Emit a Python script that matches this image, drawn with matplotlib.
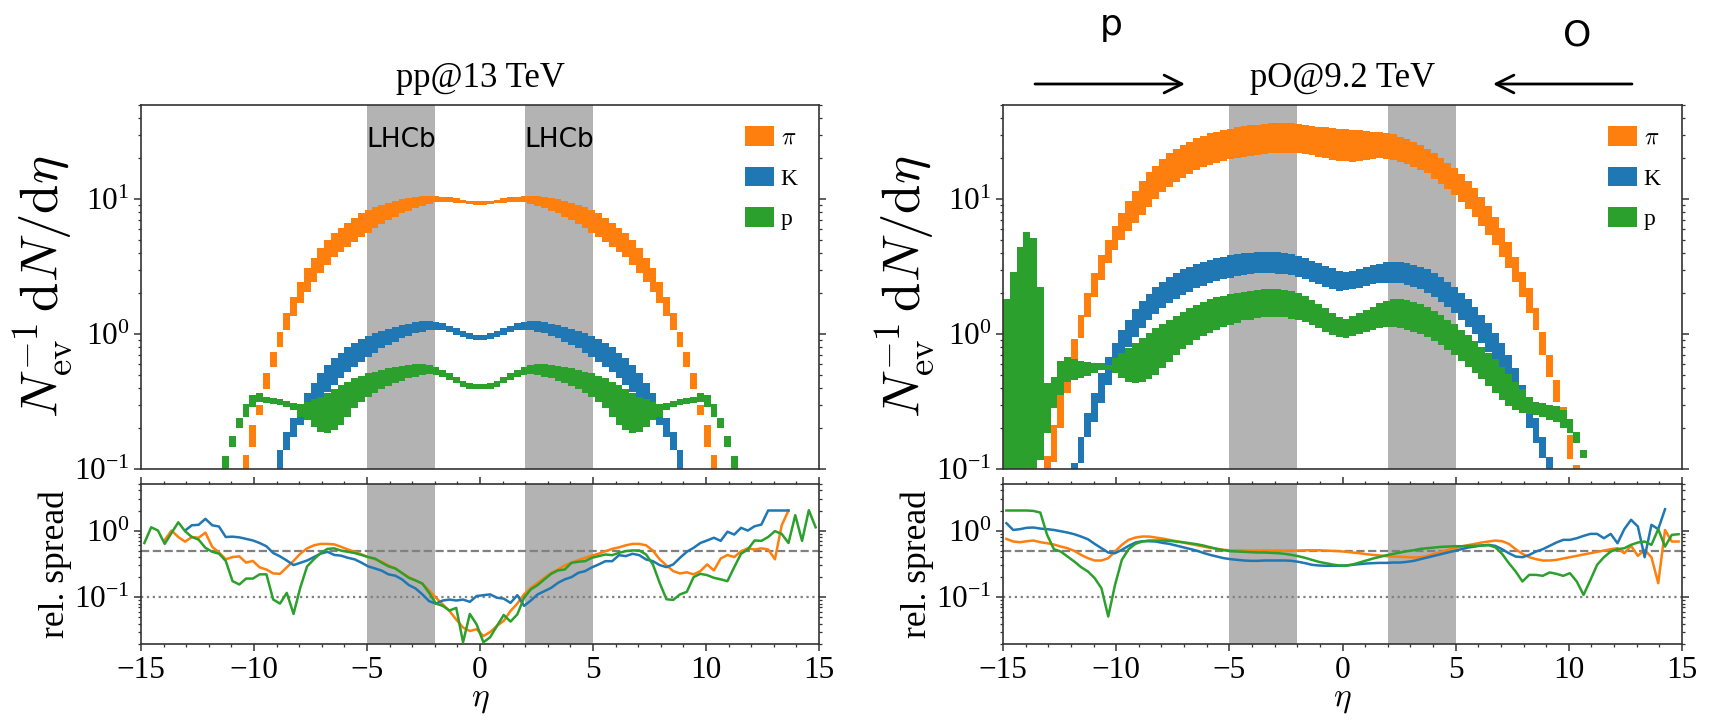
import numpy as np
import matplotlib
matplotlib.use('Agg')
import matplotlib.pyplot as plt
from matplotlib.ticker import MultipleLocator

plt.rcParams['font.family'] = ['Liberation Serif', 'DejaVu Serif']
plt.rcParams['mathtext.fontset'] = 'cm'

# ---------------- binning ----------------
eta_edges = np.linspace(-15, 15, 101)
bin_width = 0.3
species_labels = [r'$\pi$', 'K', 'p']
species_colors = ['#ff7f0e', '#1f77b4', '#2ca02c']

# ---------------- pp @ 13 TeV : bands (first bin index, lower, upper) ----------------
pp_pi_start = 15
pp_pi_hi = [0.127, 0.212, 0.30, 0.511, 0.74, 1.04, 1.42, 1.89, 2.44, 3.06, 3.63, 4.31, 4.97, 5.57, 6.07,
            6.68, 7.19, 7.83, 8.29, 8.67, 9.03, 9.40, 9.72, 10.0, 10.2, 10.4, 10.5, 10.6, 10.5, 10.4,
            10.3, 10.1, 9.9, 9.75, 9.7,
            9.7, 9.75, 9.9, 10.1, 10.3, 10.4, 10.5, 10.6, 10.5, 10.4, 10.2, 10.0, 9.72, 9.40, 9.03,
            8.67, 8.29, 7.83, 7.19, 6.68, 6.07, 5.57, 4.97, 4.31, 3.63, 3.06, 2.44, 1.89, 1.42, 1.04,
            0.74, 0.511, 0.30, 0.212, 0.127]
pp_pi_lo = [0.05, 0.146, 0.251, 0.389, 0.573, 0.806, 1.07, 1.36, 1.69, 2.06, 2.44, 2.81, 3.24, 3.74, 4.07,
            4.43, 4.83, 5.26, 5.63, 6.07, 6.53, 6.99, 7.40, 7.83, 8.20, 8.53, 8.87, 9.2, 9.45, 9.55,
            9.5, 9.42, 9.3, 9.2, 9.1,
            9.1, 9.2, 9.3, 9.42, 9.5, 9.55, 9.45, 9.2, 8.87, 8.53, 8.20, 7.83, 7.40, 6.99, 6.53,
            6.07, 5.63, 5.26, 4.83, 4.43, 4.07, 3.74, 3.24, 2.81, 2.44, 2.06, 1.69, 1.36, 1.07, 0.806,
            0.573, 0.389, 0.251, 0.146, 0.05]

pp_K_start = 20
pp_K_hi = [0.138, 0.189, 0.237, 0.298, 0.363, 0.431, 0.511, 0.589, 0.66, 0.727, 0.796, 0.853, 0.913, 0.967, 1.01,
           1.05, 1.09, 1.13, 1.16, 1.19, 1.22, 1.24, 1.24, 1.23, 1.20, 1.15, 1.10, 1.05, 1.01, 0.99,
           0.99, 1.01, 1.05, 1.10, 1.15, 1.20, 1.23, 1.24, 1.24, 1.22, 1.19, 1.16, 1.13, 1.09, 1.05,
           1.01, 0.967, 0.913, 0.853, 0.796, 0.727, 0.66, 0.589, 0.511, 0.431, 0.363, 0.298, 0.237, 0.189, 0.138]
pp_K_lo = [0.05, 0.138, 0.174, 0.212, 0.244, 0.281, 0.324, 0.374, 0.419, 0.469, 0.526, 0.573, 0.624, 0.679, 0.727,
           0.783, 0.829, 0.877, 0.929, 0.972, 1.01, 1.04, 1.07, 1.08, 1.07, 1.03, 0.99, 0.945, 0.913, 0.897,
           0.897, 0.913, 0.945, 0.99, 1.03, 1.07, 1.08, 1.07, 1.04, 1.01, 0.972, 0.929, 0.877, 0.829, 0.783,
           0.727, 0.679, 0.624, 0.573, 0.526, 0.469, 0.419, 0.374, 0.324, 0.281, 0.244, 0.212, 0.174, 0.138, 0.05]

pp_p_start = 12
pp_p_hi = [0.125, 0.175, 0.237, 0.303, 0.353, 0.363, 0.344, 0.333, 0.328, 0.319, 0.31, 0.303, 0.315, 0.328, 0.343,
           0.363, 0.389, 0.419, 0.443, 0.469, 0.489, 0.511, 0.526, 0.541, 0.557, 0.573, 0.582, 0.589, 0.596, 0.596,
           0.589, 0.573, 0.541, 0.511, 0.478, 0.451, 0.436, 0.426,
           0.426, 0.436, 0.451, 0.478, 0.511, 0.541, 0.573, 0.589, 0.596, 0.596, 0.589, 0.582, 0.573, 0.557, 0.541,
           0.526, 0.511, 0.489, 0.469, 0.443, 0.419, 0.389, 0.363, 0.343, 0.328, 0.315, 0.303, 0.31, 0.319, 0.328,
           0.333, 0.344, 0.363, 0.353, 0.303, 0.237, 0.175, 0.125]
pp_p_lo = [0.05, 0.146, 0.2, 0.244, 0.29, 0.315, 0.31, 0.303, 0.298, 0.29, 0.274, 0.244, 0.231, 0.206, 0.189,
           0.186, 0.195, 0.212, 0.244, 0.281, 0.315, 0.343, 0.367, 0.389, 0.412, 0.431, 0.451, 0.469, 0.483, 0.494,
           0.506, 0.497, 0.483, 0.456, 0.436, 0.407, 0.394, 0.389,
           0.389, 0.394, 0.407, 0.436, 0.456, 0.483, 0.497, 0.506, 0.494, 0.483, 0.469, 0.451, 0.431, 0.412, 0.389,
           0.367, 0.343, 0.315, 0.281, 0.244, 0.212, 0.195, 0.186, 0.189, 0.206, 0.231, 0.244, 0.274, 0.29, 0.298,
           0.303, 0.31, 0.315, 0.29, 0.244, 0.2, 0.146, 0.05]

# ---------------- pO @ 9.2 TeV : bands ----------------
pO_pi_start = 6
pO_pi_hi = [0.125, 0.212, 0.353, 0.575, 0.913, 1.38, 2.02, 2.85, 3.85, 4.97, 6.31, 7.83, 9.72, 11.5, 13.6,
            15.9, 17.7, 19.7, 21.8, 23.5, 25.1, 26.6, 28.1, 29.3, 30.6, 31.5, 32.5, 33.2, 34.0, 34.5,
            35.1, 35.5, 35.9, 36.3, 36.5, 36.5, 36.3, 35.9, 35.3, 34.7, 34.4, 34.0, 33.6, 33.2,
            32.8, 32.5, 32.2, 31.9, 31.6, 31.3, 30.8, 30.2, 29.0, 27.7, 26.4, 25.0, 23.6, 21.8, 20.1,
            18.6, 16.9, 15.3, 13.7, 12.0, 10.4, 8.87, 7.4, 6.07, 4.83, 3.74, 2.9, 2.18, 1.55, 1.04,
            0.699, 0.456, 0.29, 0.179, 0.107]
pO_pi_lo = [0.05, 0.113, 0.2, 0.363, 0.641, 0.929, 1.34, 1.89, 2.51, 3.34, 4.19, 4.97, 5.79, 6.6, 7.61,
            8.77, 9.95, 11.3, 12.3, 13.4, 14.4, 15.3, 16.4, 17.4, 17.9, 18.6, 19.1, 19.7, 20.0, 20.4,
            20.8, 21.2, 21.5, 21.8, 21.9, 22.0, 22.0, 21.9, 21.5, 21.2, 20.6, 20.0, 19.5, 19.2,
            19.0, 18.9, 19.1, 19.5, 19.8, 20.0, 19.9, 19.6, 18.7, 18.1, 17.4, 16.4, 15.5, 14.0, 12.9,
            11.8, 10.7, 9.55, 8.38, 7.31, 6.31, 5.41, 4.56, 3.74, 3.06, 2.44, 1.89, 1.42, 1.07, 0.699,
            0.483, 0.315, 0.2, 0.118, 0.05]

pO_K_start = 10
pO_K_hi = [0.11, 0.172, 0.258, 0.367, 0.511, 0.671, 0.863, 1.07, 1.28, 1.52, 1.75, 1.98, 2.22, 2.44, 2.66,
           2.85, 3.01, 3.15, 3.30, 3.41, 3.53, 3.63, 3.74, 3.83, 3.89, 3.96, 4.00, 4.05, 4.07, 4.07,
           4.05, 4.00, 3.92, 3.80, 3.66, 3.49, 3.34, 3.19, 3.06, 2.94,
           2.90, 2.93, 3.01, 3.12, 3.23, 3.32, 3.40, 3.43, 3.41, 3.36, 3.26, 3.15, 3.01, 2.85, 2.66,
           2.44, 2.24, 2.02, 1.81, 1.59, 1.38, 1.20, 1.02, 0.853, 0.699, 0.557, 0.419, 0.315, 0.237, 0.174, 0.123]
pO_K_lo = [0.05, 0.11, 0.172, 0.224, 0.306, 0.419, 0.547, 0.679, 0.806, 0.955, 1.11, 1.26, 1.40, 1.55, 1.69,
           1.81, 1.94, 2.06, 2.18, 2.28, 2.37, 2.47, 2.54, 2.61, 2.69, 2.74, 2.78, 2.81, 2.81, 2.81,
           2.80, 2.77, 2.72, 2.66, 2.55, 2.44, 2.33, 2.24, 2.15, 2.09,
           2.12, 2.14, 2.20, 2.27, 2.33, 2.37, 2.40, 2.40, 2.37, 2.32, 2.24, 2.14, 2.02, 1.89, 1.74,
           1.58, 1.42, 1.27, 1.13, 0.995, 0.863, 0.74, 0.624, 0.526, 0.431, 0.343, 0.258, 0.2, 0.155, 0.12, 0.05]

pO_p_start = 0
pO_p_hi = [1.82, 2.9, 4.43, 5.66, 5.17, 2.22, 0.436, 0.483, 0.631, 0.679, 0.649, 0.635, 0.624, 0.613, 0.606,
           0.589, 0.66, 0.719, 0.783, 0.853, 0.929, 1.01, 1.10, 1.19, 1.27, 1.36, 1.46, 1.55, 1.64, 1.74,
           1.81, 1.87, 1.92, 1.98, 2.02, 2.06, 2.09, 2.13, 2.15, 2.17, 2.15, 2.12, 2.07, 2.00, 1.91,
           1.79, 1.67, 1.55, 1.42, 1.33, 1.30, 1.36, 1.42, 1.51, 1.59, 1.69, 1.75, 1.81, 1.81, 1.79,
           1.74, 1.67, 1.58, 1.49, 1.38, 1.28, 1.19, 1.08, 0.98, 0.893, 0.806, 0.727, 0.649, 0.573, 0.506,
           0.443, 0.389, 0.343, 0.315, 0.306, 0.299, 0.294, 0.273, 0.233, 0.189, 0.138]
pO_p_lo = [0.05, 0.05, 0.05, 0.05, 0.05, 0.117, 0.184, 0.281, 0.353, 0.443, 0.456, 0.469, 0.489, 0.511, 0.541,
           0.541, 0.511, 0.469, 0.443, 0.436, 0.443, 0.461, 0.497, 0.557, 0.624, 0.699, 0.769, 0.829, 0.903, 0.967,
           1.02, 1.08, 1.13, 1.17, 1.21, 1.26, 1.28, 1.31, 1.33, 1.34, 1.34, 1.33, 1.30, 1.27, 1.23,
           1.17, 1.10, 1.04, 0.98, 0.95, 0.94, 0.967, 0.995, 1.03, 1.07, 1.10, 1.12, 1.12, 1.11, 1.08,
           1.04, 0.995, 0.945, 0.893, 0.829, 0.761, 0.699, 0.634, 0.573, 0.517, 0.461, 0.412, 0.367, 0.324, 0.293,
           0.273, 0.261, 0.255, 0.251, 0.244, 0.231, 0.224, 0.2, 0.184, 0.155, 0.12]

# ---------------- relative spread (first bin index, values) ----------------
pp_pi_sp_start = 3
pp_pi_sp = [0.72, 1.0, 0.80, 0.68, 0.80, 0.78, 0.93, 0.57, 0.47, 0.37, 0.40, 0.41, 0.33, 0.35, 0.28,
            0.26, 0.227, 0.224, 0.28, 0.35, 0.45, 0.54, 0.60, 0.63, 0.63, 0.62, 0.57, 0.52, 0.48, 0.44,
            0.40, 0.37, 0.34, 0.30, 0.27, 0.232, 0.20, 0.178, 0.159, 0.126, 0.098, 0.078, 0.062, 0.046, 0.035,
            0.031, 0.033,
            0.026, 0.030, 0.037, 0.044, 0.062, 0.080, 0.11, 0.138, 0.164, 0.195, 0.232, 0.26, 0.30, 0.33, 0.36,
            0.39, 0.42, 0.45, 0.49, 0.53, 0.56, 0.60, 0.63, 0.63, 0.60, 0.50, 0.37, 0.30, 0.246, 0.227,
            0.236, 0.22, 0.246, 0.31, 0.252, 0.38, 0.43, 0.40, 0.49, 0.54, 0.52, 0.54, 0.52, 0.37, 1.2, 2.0]
pp_K_sp_start = 6
pp_K_sp = [1.0, 1.2, 1.22, 1.5, 1.2, 1.15, 0.80, 0.81, 0.79, 0.75, 0.71, 0.65, 0.58, 0.46, 0.41,
           0.355, 0.303, 0.328, 0.355, 0.40, 0.45, 0.48, 0.43, 0.42, 0.39, 0.37, 0.33, 0.29, 0.27, 0.25,
           0.22, 0.21, 0.185, 0.152, 0.135, 0.11, 0.087, 0.08, 0.089, 0.092, 0.089, 0.092, 0.085, 0.104,
           0.107, 0.11, 0.098, 0.095, 0.082, 0.107, 0.074, 0.089, 0.11, 0.123, 0.138, 0.164, 0.185, 0.20, 0.232,
           0.246, 0.28, 0.31, 0.347, 0.347, 0.427, 0.413, 0.448, 0.427, 0.368, 0.347, 0.303, 0.282, 0.31, 0.39,
           0.48, 0.55, 0.65, 0.71, 0.78, 0.70, 0.96, 0.87, 1.1, 1.0, 1.16, 1.23, 2.0, 2.0, 2.0, 2.0]
pp_p_sp_start = 0
pp_p_sp = [0.65, 1.12, 1.0, 0.63, 0.92, 1.33, 0.98, 0.80, 0.73, 0.55, 0.48, 0.45, 0.35, 0.174, 0.155,
           0.19, 0.19, 0.22, 0.22, 0.092, 0.08, 0.116, 0.056, 0.14, 0.29, 0.37, 0.46, 0.53, 0.54, 0.50,
           0.48, 0.46, 0.43, 0.40, 0.38, 0.33, 0.29, 0.27, 0.23, 0.195, 0.178, 0.16, 0.116, 0.08, 0.074,
           0.063, 0.069, 0.021, 0.056, 0.039,
           0.021, 0.025, 0.037, 0.054, 0.043, 0.055, 0.098, 0.131, 0.152, 0.185, 0.224, 0.252, 0.26, 0.328, 0.34,
           0.347, 0.39, 0.413, 0.437, 0.427, 0.463, 0.491, 0.502, 0.502, 0.437, 0.31, 0.164, 0.093, 0.091, 0.11,
           0.12, 0.20, 0.224, 0.214, 0.195, 0.185, 0.174, 0.282, 0.448, 0.52, 0.71, 0.70, 0.80, 0.98, 0.89,
           0.65, 1.70, 0.70, 2.02, 1.12]

pO_pi_sp_start = 0
pO_pi_sp = [0.75, 0.684, 0.668, 0.692, 0.708, 0.668, 0.645, 0.617, 0.575, 0.543,
            0.495, 0.431, 0.385, 0.355, 0.355, 0.385, 0.484, 0.61, 0.725, 0.785,
            0.813, 0.813, 0.785, 0.759, 0.725, 0.692, 0.661, 0.631, 0.603, 0.575,
            0.55, 0.531, 0.513, 0.505, 0.505, 0.50, 0.50, 0.50, 0.50, 0.50,
            0.50, 0.50, 0.50, 0.50, 0.505, 0.505, 0.505, 0.50, 0.495, 0.49,
            0.48, 0.468, 0.457, 0.442, 0.431, 0.422, 0.412, 0.407, 0.403, 0.398,
            0.394, 0.398, 0.417, 0.447, 0.479, 0.513, 0.543, 0.575, 0.603, 0.631,
            0.661, 0.684, 0.708, 0.692, 0.631, 0.525, 0.447, 0.398, 0.372, 0.355,
            0.355, 0.363, 0.38, 0.398, 0.417, 0.437, 0.457, 0.479, 0.50, 0.525,
            0.543, 0.457, 0.589, 0.417, 0.513, 0.398, 0.162, 1.02, 0.684, 0.684]
pO_K_sp_start = 0
pO_K_sp = [1.29, 1.02, 1.05, 1.10, 1.11, 1.07, 1.05, 1.02, 0.977, 0.933,
           0.881, 0.813, 0.741, 0.631, 0.543, 0.468, 0.457, 0.513, 0.589, 0.661,
           0.692, 0.692, 0.684, 0.653, 0.631, 0.596, 0.562, 0.531, 0.50, 0.462,
           0.431, 0.407, 0.385, 0.372, 0.363, 0.355, 0.351, 0.351, 0.355, 0.355,
           0.355, 0.355, 0.351, 0.339, 0.324, 0.306, 0.299, 0.296, 0.296, 0.296,
           0.299, 0.306, 0.313, 0.32, 0.324, 0.327, 0.327, 0.331, 0.331, 0.339,
           0.351, 0.372, 0.394, 0.417, 0.442, 0.468, 0.495, 0.525, 0.556, 0.575,
           0.596, 0.61, 0.589, 0.525, 0.457, 0.407, 0.398, 0.431, 0.484, 0.525,
           0.589, 0.661, 0.725, 0.725, 0.767, 0.832, 0.891, 0.891, 0.767, 0.891,
           0.645, 1.05, 1.45, 1.15, 0.398, 1.22, 1.05, 2.09]
pO_p_sp_start = 0
pO_p_sp = [2.0, 2.0, 2.0, 2.0, 1.97, 1.86, 0.861, 0.525, 0.484, 0.407,
           0.343, 0.282, 0.243, 0.193, 0.136, 0.0513, 0.153, 0.363, 0.525, 0.631,
           0.684, 0.708, 0.708, 0.708, 0.70, 0.684, 0.668, 0.645, 0.624, 0.596,
           0.562, 0.531, 0.507, 0.49, 0.484, 0.479, 0.473, 0.468, 0.468, 0.462,
           0.457, 0.447, 0.431, 0.412, 0.389, 0.363, 0.339, 0.324, 0.309, 0.299,
           0.296, 0.309, 0.331, 0.355, 0.38, 0.403, 0.427, 0.447, 0.468, 0.49,
           0.507, 0.531, 0.543, 0.556, 0.569, 0.575, 0.582, 0.582, 0.589, 0.589,
           0.596, 0.603, 0.562, 0.447, 0.324, 0.243, 0.172, 0.216, 0.216, 0.209,
           0.235, 0.224, 0.209, 0.229, 0.172, 0.108, 0.18, 0.306, 0.398, 0.484,
           0.525, 0.543, 0.61, 0.661, 0.684, 0.61, 1.05, 0.575, 0.861, 0.881]

lhcb_ranges = [(-5, -2), (2, 5)]
ref_levels = [0.5, 0.1]

# ---------------- figure ----------------
W, H = 1710, 724
fig = plt.figure(figsize=(W / 100, H / 100), dpi=100)
centers = 0.5 * (eta_edges[:-1] + eta_edges[1:])

def px_axes(x0, x1, ytop, ybot):
    return fig.add_axes([x0 / W, 1 - ybot / H, (x1 - x0) / W, (ybot - ytop) / H])

ylabel_main = r'$N_\mathrm{ev}^{-1}\,\mathrm{d}N/\mathrm{d}\eta$'
spine_col = '0.2'

def style_axes(ax):
    for s in ax.spines.values():
        s.set_color(spine_col)
        s.set_linewidth(1.2)

def make_panel(x0, x1, title, bands, spreads, lhcb_text):
    ax = px_axes(x0, x1, 104.7, 469)
    axb = px_axes(x0, x1, 484, 643.7)
    for a in (ax, axb):
        for lo, hi in lhcb_ranges:
            a.axvspan(lo, hi, color='#b3b3b3', lw=0, zorder=0.5)
        a.set_xlim(-15, 15)
        a.set_yscale('log')
        style_axes(a)
    # bands
    for (start, lo, hi), col, lab in zip(bands, species_colors, species_labels):
        lo = np.asarray(lo); hi = np.asarray(hi)
        x = centers[start:start + len(lo)]
        ax.bar(x, hi - lo, bottom=lo, width=bin_width, color=col, linewidth=0,
               label=lab, zorder=2)
    ax.set_ylim(0.1, 50)
    ax.tick_params(axis='x', which='both', bottom=False, top=False, labelbottom=False)
    ax.tick_params(axis='y', which='both', left=True, right=True, direction='out',
                   labelsize=22.5, colors=spine_col, labelcolor='black')
    ax.tick_params(axis='y', which='major', length=5, width=1.1)
    ax.tick_params(axis='y', which='minor', length=2.5, width=0.9)
    ax.set_ylabel(ylabel_main, fontsize=38)
    ax.yaxis.set_label_coords(-0.099, 0.5)
    ax.set_title(title, fontsize=25, pad=13)
    ax.legend(loc='upper right', frameon=False, fontsize=17, handlelength=1.23,
              handleheight=0.9, handletextpad=0.3, labelspacing=0.75, borderaxespad=0.5)
    if lhcb_text:
        for lo, hi in lhcb_ranges:
            ax.text(0.5 * (lo + hi), 24.3, 'LHCb', family='DejaVu Sans', fontsize=19,
                    ha='center', va='baseline', zorder=3)
    # spreads
    axb.axhline(ref_levels[0], color='0.5', ls='--', lw=1.6, zorder=1)
    axb.axhline(ref_levels[1], color='0.5', ls=':', lw=1.6, zorder=1)
    for (start, vals), col in zip(spreads, species_colors):
        x = centers[start:start + len(vals)]
        axb.plot(x, vals, color=col, lw=1.8, zorder=3)
    axb.set_ylim(0.02, 5)
    axb.xaxis.set_major_locator(MultipleLocator(5))
    axb.xaxis.set_minor_locator(MultipleLocator(1))
    axb.tick_params(which='both', top=True, right=True, direction='out',
                    labelsize=22.5, colors=spine_col, labelcolor='black')
    axb.tick_params(which='major', length=5, width=1.1)
    axb.tick_params(which='minor', length=2.5, width=0.9)
    axb.set_ylabel('rel. spread', fontsize=25.5)
    axb.yaxis.set_label_coords(-0.102, 0.5)
    axb.set_xlabel(r'$\eta$', fontsize=24, labelpad=0)
    return ax, axb

make_panel(141, 819, 'pp@13 TeV',
           [(pp_pi_start, pp_pi_lo, pp_pi_hi), (pp_K_start, pp_K_lo, pp_K_hi), (pp_p_start, pp_p_lo, pp_p_hi)],
           [(pp_pi_sp_start, pp_pi_sp), (pp_K_sp_start, pp_K_sp), (pp_p_sp_start, pp_p_sp)], True)
make_panel(1003, 1682, 'pO@9.2 TeV',
           [(pO_pi_start, pO_pi_lo, pO_pi_hi), (pO_K_start, pO_K_lo, pO_K_hi), (pO_p_start, pO_p_lo, pO_p_hi)],
           [(pO_pi_sp_start, pO_pi_sp), (pO_K_sp_start, pO_K_sp), (pO_p_sp_start, pO_p_sp)], False)

# beam direction arrows and labels
arrow_kw = dict(arrowstyle='->', lw=2.0, color='black', mutation_scale=32, shrinkA=0, shrinkB=0)
fig.add_artist(matplotlib.patches.FancyArrowPatch((1035 / W, 1 - 84 / H), (1185 / W, 1 - 84 / H),
                                                  transform=fig.transFigure, **arrow_kw))
fig.add_artist(matplotlib.patches.FancyArrowPatch((1632 / W, 1 - 84 / H), (1493 / W, 1 - 84 / H),
                                                  transform=fig.transFigure, **arrow_kw))
fig.text(1111 / W, 1 - 35 / H, 'p', family='DejaVu Sans', fontsize=26, ha='center', va='baseline')
fig.text(1577 / W, 1 - 46 / H, 'O', family='DejaVu Sans', fontsize=26, ha='center', va='baseline')

fig.savefig('out.png', dpi=100)
